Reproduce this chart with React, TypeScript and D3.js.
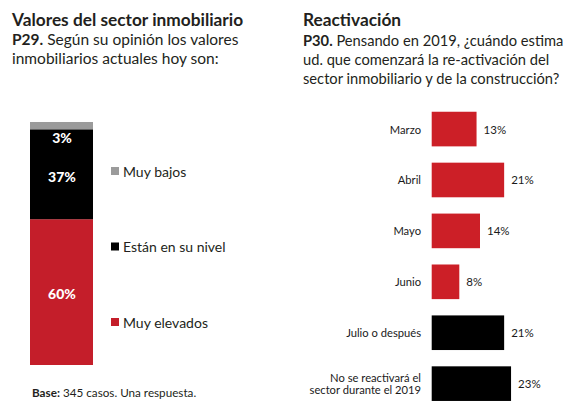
import React from "react";
import * as d3 from "d3";

const stackCategories = ["Muy elevados", "Están en su nivel", "Muy bajos"];
const stackValues = [60, 37, 3];
const stackColors = ["#c41e2a", "#000000", "#9b9b9b"];
const legendOrder = ["Muy bajos", "Están en su nivel", "Muy elevados"];

const barCategories = [
  ["Marzo"],
  ["Abril"],
  ["Mayo"],
  ["Junio"],
  ["Julio o después"],
  ["No se reactivará el", "sector durante el 2019"],
];
const barValues = [13, 21, 14, 8, 21, 23];
const barColors = ["#cc1f27", "#cc1f27", "#cc1f27", "#cc1f27", "#000000", "#000000"];

const FONT = "Lato, 'Open Sans', sans-serif";

export default function App() {
  // Left stacked bar
  const yS = d3.scaleLinear().domain([0, 100]).range([365, 122]);
  let cum = 0;
  const segs = stackValues.map((v, i) => {
    const s = { name: stackCategories[i], v, y0: cum, y1: cum + v, color: stackColors[i] };
    cum += v;
    return s;
  });
  const labelY: Record<string, number> = { "Muy elevados": 293, "Están en su nivel": 176, "Muy bajos": 137 };
  const legendY = d3.scalePoint<string>().domain(legendOrder).range([171, 322]);

  // Right horizontal bars
  const keys = barCategories.map((c) => c.join(" "));
  const yB = d3.scaleBand<string>().domain(keys).range([103.6, 409.1]).paddingInner(0.32).paddingOuter(0.16);
  const xB = d3.scaleLinear().domain([0, 23]).range([431.7, 431.7 + 23 * 3.45]);

  return (
    <svg width={579} height={417} style={{ position: "absolute", left: 0, top: 0, background: "#fff" }} fontFamily={FONT}>
      {/* Left titles */}
      <text x={12} y={26} fontSize={17.3} fontWeight="bold" fill="#231f20">Valores del sector inmobiliario</text>
      <text x={12} y={45} fontSize={15.5} fill="#231f20">
        <tspan fontWeight="bold">P29.</tspan> Según su opinión los valores
      </text>
      <text x={12} y={63.5} fontSize={15.5} fill="#231f20">inmobiliarios actuales hoy son:</text>

      {segs.map((s) => (
        <rect key={s.name} x={30} width={63} y={yS(s.y1)} height={yS(s.y0) - yS(s.y1)} fill={s.color} />
      ))}
      {segs.map((s) => (
        <text key={"l" + s.name} x={62} y={labelY[s.name]} fontSize={14} fontWeight="900" fill="#fff" textAnchor="middle" dominantBaseline="central">
          {s.v}%
        </text>
      ))}
      {legendOrder.map((name) => {
        const c = stackColors[stackCategories.indexOf(name)];
        return (
          <g key={"lg" + name}>
            <rect x={111} y={legendY(name)! - 4} width={8} height={8} fill={c} />
            <text x={123} y={legendY(name)!} fontSize={14} fill="#231f20" dominantBaseline="central">{name}</text>
          </g>
        );
      })}
      <text x={32} y={397} fontSize={11.7} fill="#231f20">
        <tspan fontWeight="bold">Base:</tspan> 345 casos. Una respuesta.
      </text>

      {/* Right titles */}
      <text x={303} y={26} fontSize={17.3} fontWeight="bold" fill="#231f20">Reactivación</text>
      <text x={303} y={45.5} fontSize={14.7} fill="#231f20">
        <tspan fontWeight="bold">P30.</tspan> Pensando en 2019, ¿cuándo estima
      </text>
      <text x={303} y={64.5} fontSize={14.7} fill="#231f20">ud. que comenzará la re-activación del</text>
      <text x={303} y={83.5} fontSize={14.7} fill="#231f20">sector inmobiliario y de la construcción?</text>

      {barCategories.map((lines, i) => {
        const k = keys[i];
        const y = yB(k)!;
        const h = yB.bandwidth();
        const cy = y + h / 2;
        return (
          <g key={k}>
            <rect x={xB(0)} y={y} width={xB(barValues[i]) - xB(0)} height={h} fill={barColors[i]} />
            {lines.map((ln, j) => (
              <text key={j} x={421} y={cy + (j - (lines.length - 1) / 2) * 12.7} fontSize={11.2} textAnchor="end" dominantBaseline="central" fill="#1a1a1a">
                {ln}
              </text>
            ))}
            <text x={xB(barValues[i]) + 7} y={cy} fontSize={11.5} dominantBaseline="central" fill="#1a1a1a">
              {barValues[i]}%
            </text>
          </g>
        );
      })}
    </svg>
  );
}
